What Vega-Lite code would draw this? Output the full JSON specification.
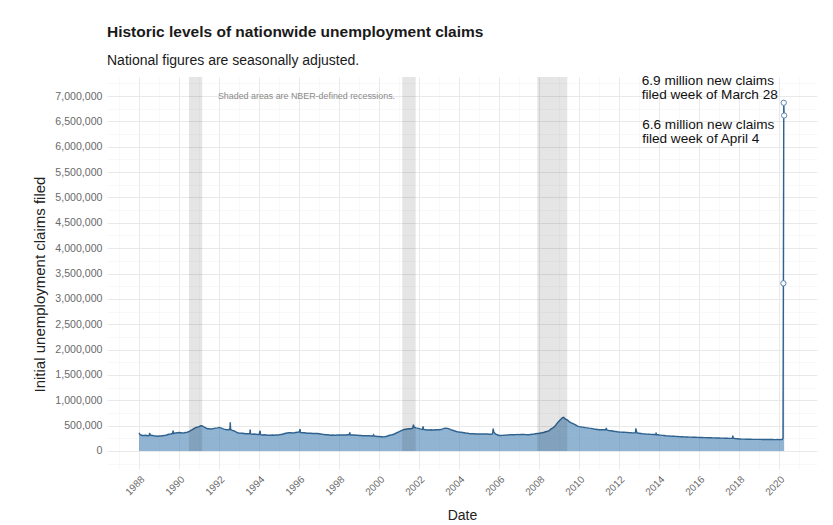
{
  "$schema": "https://vega.github.io/schema/vega-lite/v6.json",
  "autosize": "none",
  "width": 710,
  "height": 392,
  "padding": {"left": 107, "top": 77, "right": 16, "bottom": 56},
  "background": "white",
  "title": {
    "text": "Historic levels of nationwide unemployment claims",
    "subtitle": "National figures are seasonally adjusted.",
    "anchor": "start",
    "frame": "group",
    "offset": 6,
    "font": "Liberation Sans",
    "fontSize": 15.5,
    "fontWeight": "bold",
    "color": "#1a1a1a",
    "subtitleFont": "Liberation Sans",
    "subtitleFontSize": 14,
    "subtitleColor": "#1a1a1a",
    "subtitlePadding": 13
  },
  "datasets": {
    "claims": [
      {"date": "1988-01-02", "value": 360000},
      {"date": "1988-01-16", "value": 330000},
      {"date": "1988-02-06", "value": 315000},
      {"date": "1988-03-05", "value": 305000},
      {"date": "1988-04-02", "value": 305000},
      {"date": "1988-05-07", "value": 310000},
      {"date": "1988-06-04", "value": 300000},
      {"date": "1988-07-02", "value": 305000},
      {"date": "1988-07-16", "value": 355000},
      {"date": "1988-07-23", "value": 310000},
      {"date": "1988-08-06", "value": 310000},
      {"date": "1988-09-03", "value": 305000},
      {"date": "1988-10-01", "value": 300000},
      {"date": "1988-11-05", "value": 295000},
      {"date": "1988-12-03", "value": 290000},
      {"date": "1989-01-07", "value": 295000},
      {"date": "1989-02-04", "value": 295000},
      {"date": "1989-03-04", "value": 300000},
      {"date": "1989-04-01", "value": 305000},
      {"date": "1989-05-06", "value": 310000},
      {"date": "1989-06-03", "value": 320000},
      {"date": "1989-07-01", "value": 330000},
      {"date": "1989-08-05", "value": 335000},
      {"date": "1989-09-02", "value": 345000},
      {"date": "1989-09-16", "value": 400000},
      {"date": "1989-09-23", "value": 345000},
      {"date": "1989-10-07", "value": 350000},
      {"date": "1989-11-04", "value": 355000},
      {"date": "1989-12-02", "value": 360000},
      {"date": "1990-01-06", "value": 365000},
      {"date": "1990-02-03", "value": 360000},
      {"date": "1990-03-03", "value": 355000},
      {"date": "1990-04-07", "value": 360000},
      {"date": "1990-05-05", "value": 365000},
      {"date": "1990-06-02", "value": 370000},
      {"date": "1990-07-07", "value": 385000},
      {"date": "1990-08-04", "value": 405000},
      {"date": "1990-09-01", "value": 420000},
      {"date": "1990-10-06", "value": 445000},
      {"date": "1990-11-03", "value": 460000},
      {"date": "1990-12-01", "value": 470000},
      {"date": "1991-01-05", "value": 480000},
      {"date": "1991-02-02", "value": 500000},
      {"date": "1991-03-02", "value": 495000},
      {"date": "1991-04-06", "value": 470000},
      {"date": "1991-05-04", "value": 455000},
      {"date": "1991-06-01", "value": 440000},
      {"date": "1991-07-06", "value": 440000},
      {"date": "1991-08-03", "value": 435000},
      {"date": "1991-09-07", "value": 440000},
      {"date": "1991-10-05", "value": 445000},
      {"date": "1991-11-02", "value": 450000},
      {"date": "1991-12-07", "value": 455000},
      {"date": "1992-01-04", "value": 465000},
      {"date": "1992-02-01", "value": 455000},
      {"date": "1992-03-07", "value": 440000},
      {"date": "1992-04-04", "value": 430000},
      {"date": "1992-05-02", "value": 425000},
      {"date": "1992-06-06", "value": 420000},
      {"date": "1992-07-04", "value": 425000},
      {"date": "1992-07-18", "value": 420000},
      {"date": "1992-07-25", "value": 565000},
      {"date": "1992-08-01", "value": 425000},
      {"date": "1992-08-22", "value": 410000},
      {"date": "1992-09-05", "value": 405000},
      {"date": "1992-10-03", "value": 395000},
      {"date": "1992-11-07", "value": 375000},
      {"date": "1992-12-05", "value": 360000},
      {"date": "1993-01-02", "value": 355000},
      {"date": "1993-02-06", "value": 350000},
      {"date": "1993-03-06", "value": 350000},
      {"date": "1993-04-03", "value": 345000},
      {"date": "1993-05-01", "value": 340000},
      {"date": "1993-06-05", "value": 340000},
      {"date": "1993-07-17", "value": 340000},
      {"date": "1993-07-24", "value": 425000},
      {"date": "1993-07-31", "value": 340000},
      {"date": "1993-08-07", "value": 335000},
      {"date": "1993-09-04", "value": 330000},
      {"date": "1993-10-02", "value": 335000},
      {"date": "1993-11-06", "value": 330000},
      {"date": "1993-12-04", "value": 325000},
      {"date": "1994-01-01", "value": 325000},
      {"date": "1994-01-22", "value": 400000},
      {"date": "1994-01-29", "value": 325000},
      {"date": "1994-02-05", "value": 320000},
      {"date": "1994-03-05", "value": 315000},
      {"date": "1994-04-02", "value": 320000},
      {"date": "1994-05-07", "value": 315000},
      {"date": "1994-06-04", "value": 310000},
      {"date": "1994-07-02", "value": 310000},
      {"date": "1994-08-06", "value": 310000},
      {"date": "1994-09-03", "value": 315000},
      {"date": "1994-10-01", "value": 310000},
      {"date": "1994-11-05", "value": 315000},
      {"date": "1994-12-03", "value": 315000},
      {"date": "1995-01-07", "value": 320000},
      {"date": "1995-02-04", "value": 325000},
      {"date": "1995-03-04", "value": 330000},
      {"date": "1995-04-01", "value": 340000},
      {"date": "1995-05-06", "value": 350000},
      {"date": "1995-06-03", "value": 355000},
      {"date": "1995-07-01", "value": 360000},
      {"date": "1995-08-05", "value": 360000},
      {"date": "1995-09-02", "value": 355000},
      {"date": "1995-10-07", "value": 360000},
      {"date": "1995-11-04", "value": 365000},
      {"date": "1995-12-02", "value": 370000},
      {"date": "1996-01-06", "value": 375000},
      {"date": "1996-01-20", "value": 430000},
      {"date": "1996-01-27", "value": 370000},
      {"date": "1996-02-03", "value": 365000},
      {"date": "1996-03-02", "value": 360000},
      {"date": "1996-04-06", "value": 360000},
      {"date": "1996-05-04", "value": 355000},
      {"date": "1996-06-01", "value": 350000},
      {"date": "1996-07-06", "value": 350000},
      {"date": "1996-08-03", "value": 350000},
      {"date": "1996-09-07", "value": 345000},
      {"date": "1996-10-05", "value": 345000},
      {"date": "1996-11-02", "value": 345000},
      {"date": "1996-12-07", "value": 345000},
      {"date": "1997-01-04", "value": 340000},
      {"date": "1997-02-01", "value": 335000},
      {"date": "1997-03-01", "value": 330000},
      {"date": "1997-04-05", "value": 325000},
      {"date": "1997-05-03", "value": 320000},
      {"date": "1997-06-07", "value": 320000},
      {"date": "1997-07-05", "value": 315000},
      {"date": "1997-08-02", "value": 310000},
      {"date": "1997-09-06", "value": 315000},
      {"date": "1997-10-04", "value": 310000},
      {"date": "1997-11-01", "value": 310000},
      {"date": "1997-12-06", "value": 315000},
      {"date": "1998-01-03", "value": 315000},
      {"date": "1998-02-07", "value": 315000},
      {"date": "1998-03-07", "value": 315000},
      {"date": "1998-04-04", "value": 315000},
      {"date": "1998-05-02", "value": 315000},
      {"date": "1998-06-06", "value": 320000},
      {"date": "1998-07-04", "value": 320000},
      {"date": "1998-07-18", "value": 365000},
      {"date": "1998-07-25", "value": 320000},
      {"date": "1998-08-01", "value": 315000},
      {"date": "1998-09-05", "value": 315000},
      {"date": "1998-10-03", "value": 315000},
      {"date": "1998-11-07", "value": 310000},
      {"date": "1998-12-05", "value": 310000},
      {"date": "1999-01-02", "value": 305000},
      {"date": "1999-02-06", "value": 305000},
      {"date": "1999-03-06", "value": 300000},
      {"date": "1999-04-03", "value": 300000},
      {"date": "1999-05-01", "value": 300000},
      {"date": "1999-06-05", "value": 300000},
      {"date": "1999-07-03", "value": 300000},
      {"date": "1999-08-07", "value": 295000},
      {"date": "1999-09-04", "value": 295000},
      {"date": "1999-09-25", "value": 320000},
      {"date": "1999-10-02", "value": 295000},
      {"date": "1999-11-06", "value": 290000},
      {"date": "1999-12-04", "value": 285000},
      {"date": "2000-01-01", "value": 285000},
      {"date": "2000-02-05", "value": 280000},
      {"date": "2000-03-04", "value": 280000},
      {"date": "2000-04-01", "value": 278000},
      {"date": "2000-05-06", "value": 285000},
      {"date": "2000-06-03", "value": 295000},
      {"date": "2000-07-01", "value": 305000},
      {"date": "2000-08-05", "value": 315000},
      {"date": "2000-09-02", "value": 320000},
      {"date": "2000-10-07", "value": 335000},
      {"date": "2000-11-04", "value": 350000},
      {"date": "2000-12-02", "value": 365000},
      {"date": "2001-01-06", "value": 380000},
      {"date": "2001-02-03", "value": 395000},
      {"date": "2001-03-03", "value": 410000},
      {"date": "2001-04-07", "value": 425000},
      {"date": "2001-05-05", "value": 430000},
      {"date": "2001-06-02", "value": 435000},
      {"date": "2001-07-07", "value": 440000},
      {"date": "2001-08-04", "value": 440000},
      {"date": "2001-09-08", "value": 450000},
      {"date": "2001-09-22", "value": 520000},
      {"date": "2001-09-29", "value": 480000},
      {"date": "2001-10-06", "value": 470000},
      {"date": "2001-11-03", "value": 455000},
      {"date": "2001-12-01", "value": 450000},
      {"date": "2002-01-05", "value": 440000},
      {"date": "2002-02-02", "value": 430000},
      {"date": "2002-03-02", "value": 425000},
      {"date": "2002-03-16", "value": 485000},
      {"date": "2002-03-23", "value": 430000},
      {"date": "2002-04-06", "value": 425000},
      {"date": "2002-05-04", "value": 420000},
      {"date": "2002-06-01", "value": 415000},
      {"date": "2002-07-06", "value": 415000},
      {"date": "2002-08-03", "value": 420000},
      {"date": "2002-09-07", "value": 415000},
      {"date": "2002-10-05", "value": 415000},
      {"date": "2002-11-02", "value": 420000},
      {"date": "2002-12-07", "value": 420000},
      {"date": "2003-01-04", "value": 420000},
      {"date": "2003-02-01", "value": 425000},
      {"date": "2003-03-01", "value": 430000},
      {"date": "2003-04-05", "value": 445000},
      {"date": "2003-05-03", "value": 450000},
      {"date": "2003-06-07", "value": 445000},
      {"date": "2003-07-05", "value": 435000},
      {"date": "2003-08-02", "value": 420000},
      {"date": "2003-09-06", "value": 410000},
      {"date": "2003-10-04", "value": 400000},
      {"date": "2003-11-01", "value": 390000},
      {"date": "2003-12-06", "value": 380000},
      {"date": "2004-01-03", "value": 375000},
      {"date": "2004-02-07", "value": 370000},
      {"date": "2004-03-06", "value": 365000},
      {"date": "2004-04-03", "value": 360000},
      {"date": "2004-05-01", "value": 355000},
      {"date": "2004-06-05", "value": 350000},
      {"date": "2004-07-03", "value": 345000},
      {"date": "2004-08-07", "value": 340000},
      {"date": "2004-09-04", "value": 340000},
      {"date": "2004-10-02", "value": 340000},
      {"date": "2004-11-06", "value": 335000},
      {"date": "2004-12-04", "value": 335000},
      {"date": "2005-01-01", "value": 335000},
      {"date": "2005-02-05", "value": 335000},
      {"date": "2005-03-05", "value": 335000},
      {"date": "2005-04-02", "value": 335000},
      {"date": "2005-05-07", "value": 335000},
      {"date": "2005-06-04", "value": 335000},
      {"date": "2005-07-02", "value": 330000},
      {"date": "2005-08-06", "value": 330000},
      {"date": "2005-09-03", "value": 335000},
      {"date": "2005-09-17", "value": 440000},
      {"date": "2005-09-24", "value": 390000},
      {"date": "2005-10-08", "value": 360000},
      {"date": "2005-11-05", "value": 330000},
      {"date": "2005-12-03", "value": 320000},
      {"date": "2006-01-07", "value": 305000},
      {"date": "2006-02-04", "value": 305000},
      {"date": "2006-03-04", "value": 308000},
      {"date": "2006-04-01", "value": 310000},
      {"date": "2006-05-06", "value": 312000},
      {"date": "2006-06-03", "value": 315000},
      {"date": "2006-07-01", "value": 318000},
      {"date": "2006-08-05", "value": 320000},
      {"date": "2006-09-02", "value": 320000},
      {"date": "2006-10-07", "value": 320000},
      {"date": "2006-11-04", "value": 322000},
      {"date": "2006-12-02", "value": 325000},
      {"date": "2007-01-06", "value": 322000},
      {"date": "2007-02-03", "value": 325000},
      {"date": "2007-03-03", "value": 325000},
      {"date": "2007-04-07", "value": 325000},
      {"date": "2007-05-05", "value": 322000},
      {"date": "2007-06-02", "value": 320000},
      {"date": "2007-07-07", "value": 320000},
      {"date": "2007-08-04", "value": 325000},
      {"date": "2007-09-01", "value": 330000},
      {"date": "2007-10-06", "value": 335000},
      {"date": "2007-11-03", "value": 340000},
      {"date": "2007-12-01", "value": 345000},
      {"date": "2008-01-05", "value": 350000},
      {"date": "2008-02-02", "value": 355000},
      {"date": "2008-03-01", "value": 360000},
      {"date": "2008-04-05", "value": 370000},
      {"date": "2008-05-03", "value": 380000},
      {"date": "2008-06-07", "value": 390000},
      {"date": "2008-07-05", "value": 400000},
      {"date": "2008-08-02", "value": 430000},
      {"date": "2008-09-06", "value": 450000},
      {"date": "2008-10-04", "value": 475000},
      {"date": "2008-11-01", "value": 510000},
      {"date": "2008-12-06", "value": 560000},
      {"date": "2009-01-03", "value": 590000},
      {"date": "2009-02-07", "value": 630000},
      {"date": "2009-03-07", "value": 660000},
      {"date": "2009-03-28", "value": 665000},
      {"date": "2009-04-04", "value": 650000},
      {"date": "2009-05-02", "value": 630000},
      {"date": "2009-06-06", "value": 610000},
      {"date": "2009-07-04", "value": 580000},
      {"date": "2009-08-01", "value": 560000},
      {"date": "2009-09-05", "value": 545000},
      {"date": "2009-10-03", "value": 530000},
      {"date": "2009-11-07", "value": 510000},
      {"date": "2009-12-05", "value": 490000},
      {"date": "2010-01-02", "value": 480000},
      {"date": "2010-02-06", "value": 475000},
      {"date": "2010-03-06", "value": 470000},
      {"date": "2010-04-03", "value": 465000},
      {"date": "2010-05-01", "value": 460000},
      {"date": "2010-06-05", "value": 455000},
      {"date": "2010-07-03", "value": 450000},
      {"date": "2010-08-07", "value": 445000},
      {"date": "2010-09-04", "value": 440000},
      {"date": "2010-10-02", "value": 435000},
      {"date": "2010-11-06", "value": 430000},
      {"date": "2010-12-04", "value": 425000},
      {"date": "2011-01-01", "value": 420000},
      {"date": "2011-02-05", "value": 420000},
      {"date": "2011-03-05", "value": 418000},
      {"date": "2011-04-02", "value": 420000},
      {"date": "2011-05-07", "value": 420000},
      {"date": "2011-05-14", "value": 455000},
      {"date": "2011-05-21", "value": 420000},
      {"date": "2011-06-04", "value": 412000},
      {"date": "2011-07-02", "value": 405000},
      {"date": "2011-08-06", "value": 400000},
      {"date": "2011-09-03", "value": 395000},
      {"date": "2011-10-01", "value": 390000},
      {"date": "2011-11-05", "value": 385000},
      {"date": "2011-12-03", "value": 380000},
      {"date": "2012-01-07", "value": 375000},
      {"date": "2012-02-04", "value": 372000},
      {"date": "2012-03-03", "value": 370000},
      {"date": "2012-04-07", "value": 370000},
      {"date": "2012-05-05", "value": 368000},
      {"date": "2012-06-02", "value": 365000},
      {"date": "2012-07-07", "value": 362000},
      {"date": "2012-08-04", "value": 360000},
      {"date": "2012-09-01", "value": 358000},
      {"date": "2012-10-06", "value": 358000},
      {"date": "2012-10-27", "value": 360000},
      {"date": "2012-11-03", "value": 445000},
      {"date": "2012-11-17", "value": 380000},
      {"date": "2012-12-01", "value": 355000},
      {"date": "2013-01-05", "value": 350000},
      {"date": "2013-02-02", "value": 345000},
      {"date": "2013-03-02", "value": 340000},
      {"date": "2013-04-06", "value": 338000},
      {"date": "2013-05-04", "value": 335000},
      {"date": "2013-06-01", "value": 333000},
      {"date": "2013-07-06", "value": 330000},
      {"date": "2013-08-03", "value": 328000},
      {"date": "2013-09-07", "value": 325000},
      {"date": "2013-10-05", "value": 325000},
      {"date": "2013-11-02", "value": 322000},
      {"date": "2013-11-09", "value": 360000},
      {"date": "2013-11-16", "value": 322000},
      {"date": "2013-12-07", "value": 320000},
      {"date": "2014-01-04", "value": 315000},
      {"date": "2014-02-01", "value": 312000},
      {"date": "2014-03-01", "value": 308000},
      {"date": "2014-04-05", "value": 305000},
      {"date": "2014-05-03", "value": 300000},
      {"date": "2014-06-07", "value": 298000},
      {"date": "2014-07-05", "value": 296000},
      {"date": "2014-08-02", "value": 294000},
      {"date": "2014-09-06", "value": 292000},
      {"date": "2014-10-04", "value": 290000},
      {"date": "2014-11-01", "value": 288000},
      {"date": "2014-12-06", "value": 286000},
      {"date": "2015-01-03", "value": 284000},
      {"date": "2015-02-07", "value": 282000},
      {"date": "2015-03-07", "value": 280000},
      {"date": "2015-04-04", "value": 278000},
      {"date": "2015-05-02", "value": 277000},
      {"date": "2015-06-06", "value": 276000},
      {"date": "2015-07-04", "value": 274000},
      {"date": "2015-08-01", "value": 273000},
      {"date": "2015-09-05", "value": 272000},
      {"date": "2015-10-03", "value": 271000},
      {"date": "2015-11-07", "value": 270000},
      {"date": "2015-12-05", "value": 268000},
      {"date": "2016-01-02", "value": 267000},
      {"date": "2016-02-06", "value": 266000},
      {"date": "2016-03-05", "value": 265000},
      {"date": "2016-04-02", "value": 264000},
      {"date": "2016-05-07", "value": 263000},
      {"date": "2016-06-04", "value": 262000},
      {"date": "2016-07-02", "value": 261000},
      {"date": "2016-08-06", "value": 260000},
      {"date": "2016-09-03", "value": 259000},
      {"date": "2016-10-01", "value": 258000},
      {"date": "2016-11-05", "value": 257000},
      {"date": "2016-12-03", "value": 256000},
      {"date": "2017-01-07", "value": 255000},
      {"date": "2017-02-04", "value": 254000},
      {"date": "2017-03-04", "value": 253000},
      {"date": "2017-04-01", "value": 252000},
      {"date": "2017-05-06", "value": 251000},
      {"date": "2017-06-03", "value": 250000},
      {"date": "2017-07-01", "value": 249000},
      {"date": "2017-08-05", "value": 248000},
      {"date": "2017-09-02", "value": 248000},
      {"date": "2017-09-09", "value": 305000},
      {"date": "2017-09-16", "value": 260000},
      {"date": "2017-10-07", "value": 245000},
      {"date": "2017-11-04", "value": 243000},
      {"date": "2017-12-02", "value": 242000},
      {"date": "2018-01-06", "value": 238000},
      {"date": "2018-02-03", "value": 236000},
      {"date": "2018-03-03", "value": 235000},
      {"date": "2018-04-07", "value": 234000},
      {"date": "2018-05-05", "value": 233000},
      {"date": "2018-06-02", "value": 232000},
      {"date": "2018-07-07", "value": 232000},
      {"date": "2018-08-04", "value": 231000},
      {"date": "2018-09-01", "value": 230000},
      {"date": "2018-10-06", "value": 230000},
      {"date": "2018-11-03", "value": 229000},
      {"date": "2018-12-01", "value": 229000},
      {"date": "2019-01-05", "value": 230000},
      {"date": "2019-02-02", "value": 229000},
      {"date": "2019-03-02", "value": 228000},
      {"date": "2019-04-06", "value": 228000},
      {"date": "2019-05-04", "value": 227000},
      {"date": "2019-06-01", "value": 227000},
      {"date": "2019-07-06", "value": 226000},
      {"date": "2019-08-03", "value": 226000},
      {"date": "2019-09-07", "value": 226000},
      {"date": "2019-10-05", "value": 225000},
      {"date": "2019-11-02", "value": 225000},
      {"date": "2019-12-07", "value": 226000},
      {"date": "2020-01-04", "value": 225000},
      {"date": "2020-02-01", "value": 226000},
      {"date": "2020-02-29", "value": 225000},
      {"date": "2020-03-14", "value": 250000},
      {"date": "2020-03-21", "value": 3307000},
      {"date": "2020-03-28", "value": 6867000},
      {"date": "2020-04-04", "value": 6615000}
    ],
    "recessions": [
      {"start": "1990-07-01", "end": "1991-03-01"},
      {"start": "2001-03-01", "end": "2001-11-01"},
      {"start": "2007-12-01", "end": "2009-06-01"}
    ]
  },
  "layer": [
    {
      "encoding": {
        "x": {
          "field": "date",
          "type": "temporal",
          "scale": {"domain": ["1986-05-27", "2021-11-25"], "nice": false},
          "axis": {
            "title": "Date",
            "values": [
              {"year": 1987, "utc": true}, {"year": 1988, "utc": true}, {"year": 1989, "utc": true}, {"year": 1990, "utc": true},
              {"year": 1991, "utc": true}, {"year": 1992, "utc": true}, {"year": 1993, "utc": true}, {"year": 1994, "utc": true},
              {"year": 1995, "utc": true}, {"year": 1996, "utc": true}, {"year": 1997, "utc": true}, {"year": 1998, "utc": true},
              {"year": 1999, "utc": true}, {"year": 2000, "utc": true}, {"year": 2001, "utc": true}, {"year": 2002, "utc": true},
              {"year": 2003, "utc": true}, {"year": 2004, "utc": true}, {"year": 2005, "utc": true}, {"year": 2006, "utc": true},
              {"year": 2007, "utc": true}, {"year": 2008, "utc": true}, {"year": 2009, "utc": true}, {"year": 2010, "utc": true},
              {"year": 2011, "utc": true}, {"year": 2012, "utc": true}, {"year": 2013, "utc": true}, {"year": 2014, "utc": true},
              {"year": 2015, "utc": true}, {"year": 2016, "utc": true}, {"year": 2017, "utc": true}, {"year": 2018, "utc": true},
              {"year": 2019, "utc": true}, {"year": 2020, "utc": true}, {"year": 2021, "utc": true}
            ],
            "labelExpr": "utcyear(datum.value) % 2 === 0 ? utcFormat(datum.value, '%Y') : ''",
            "labelAngle": -45,
            "labelAlign": "right",
            "labelBaseline": "top",
            "labelPadding": 5,
            "labelFontSize": 10,
            "labelOverlap": false,
            "titlePadding": 12,
            "gridColor": {"condition": {"test": "utcyear(datum.value) % 2 === 0", "value": "#e9e9e9"}, "value": "#f3f3f3"},
            "gridWidth": {"condition": {"test": "utcyear(datum.value) % 2 === 0", "value": 1}, "value": 0.6}
          }
        },
        "y": {
          "field": "value",
          "type": "quantitative",
          "scale": {"domain": [-355000, 7375000], "nice": false, "zero": false},
          "axis": {
            "title": "Initial unemployment claims filed",
            "values": [-250000, 0, 250000, 500000, 750000, 1000000, 1250000, 1500000, 1750000, 2000000, 2250000, 2500000, 2750000, 3000000, 3250000, 3500000, 3750000, 4000000, 4250000, 4500000, 4750000, 5000000, 5250000, 5500000, 5750000, 6000000, 6250000, 6500000, 6750000, 7000000, 7250000],
            "labelExpr": "datum.value >= 0 && datum.value % 500000 === 0 ? format(datum.value, ',') : ''",
            "labelPadding": 5,
            "labelFontSize": 10.6,
            "titlePadding": 7,
            "titleFontSize": 15,
            "titleY": 207,
            "gridColor": {"condition": {"test": "datum.value % 500000 === 0", "value": "#e9e9e9"}, "value": "#f3f3f3"},
            "gridWidth": {"condition": {"test": "datum.value % 500000 === 0", "value": 1}, "value": 0.6}
          }
        }
      },
      "layer": [
        {
          "data": {"name": "claims"},
          "mark": {"type": "area", "color": "#4682b4", "opacity": 0.6}
        },
        {
          "data": {"name": "claims"},
          "mark": {"type": "line", "color": "#2f628f", "strokeWidth": 1.4}
        },
        {
          "data": {"name": "claims"},
          "transform": [{"filter": "datum.value > 1000000"}],
          "mark": {"type": "point", "shape": "circle", "filled": true, "fill": "white", "stroke": "#5a86ad", "strokeWidth": 1, "size": 28, "opacity": 1}
        },
        {
          "data": {"values": [{"date": "2020-03-28", "value": 6867000, "label": ["6.9 million new claims", "filed week of March 28"]}]},
          "mark": {"type": "text", "align": "left", "baseline": "middle", "dx": -142, "dy": -22, "fontSize": 13.6, "lineHeight": 14, "font": "Liberation Sans", "color": "#111"},
          "encoding": {"text": {"field": "label"}}
        },
        {
          "data": {"values": [{"date": "2020-04-04", "value": 6615000, "label": ["6.6 million new claims", "filed week of April 4"]}]},
          "mark": {"type": "text", "align": "left", "baseline": "middle", "dx": -142, "dy": 9, "fontSize": 13.6, "lineHeight": 14, "font": "Liberation Sans", "color": "#111"},
          "encoding": {"text": {"field": "label"}}
        },
        {
          "data": {"values": [{"date": "1996-05-17", "value": 7000000, "label": "Shaded areas are NBER-defined recessions."}]},
          "mark": {"type": "text", "align": "center", "baseline": "middle", "fontSize": 8.9, "font": "Liberation Sans", "color": "#8a8a8a"},
          "encoding": {"text": {"field": "label"}}
        }
      ]
    },
    {
      "data": {"name": "recessions"},
      "mark": {"type": "rect", "fill": "#000000", "fillOpacity": 0.1},
      "encoding": {
        "x": {
          "field": "start",
          "type": "temporal",
          "scale": {"domain": ["1986-05-27", "2021-11-25"], "nice": false},
          "axis": {
            "title": "Date",
            "values": [
              {"year": 1987, "utc": true}, {"year": 1988, "utc": true}, {"year": 1989, "utc": true}, {"year": 1990, "utc": true},
              {"year": 1991, "utc": true}, {"year": 1992, "utc": true}, {"year": 1993, "utc": true}, {"year": 1994, "utc": true},
              {"year": 1995, "utc": true}, {"year": 1996, "utc": true}, {"year": 1997, "utc": true}, {"year": 1998, "utc": true},
              {"year": 1999, "utc": true}, {"year": 2000, "utc": true}, {"year": 2001, "utc": true}, {"year": 2002, "utc": true},
              {"year": 2003, "utc": true}, {"year": 2004, "utc": true}, {"year": 2005, "utc": true}, {"year": 2006, "utc": true},
              {"year": 2007, "utc": true}, {"year": 2008, "utc": true}, {"year": 2009, "utc": true}, {"year": 2010, "utc": true},
              {"year": 2011, "utc": true}, {"year": 2012, "utc": true}, {"year": 2013, "utc": true}, {"year": 2014, "utc": true},
              {"year": 2015, "utc": true}, {"year": 2016, "utc": true}, {"year": 2017, "utc": true}, {"year": 2018, "utc": true},
              {"year": 2019, "utc": true}, {"year": 2020, "utc": true}, {"year": 2021, "utc": true}
            ],
            "labelExpr": "utcyear(datum.value) % 2 === 0 ? utcFormat(datum.value, '%Y') : ''",
            "labelAngle": -45,
            "labelAlign": "right",
            "labelBaseline": "top",
            "labelPadding": 5,
            "labelFontSize": 10,
            "labelOverlap": false,
            "titlePadding": 12,
            "gridColor": {"condition": {"test": "utcyear(datum.value) % 2 === 0", "value": "#e9e9e9"}, "value": "#f3f3f3"},
            "gridWidth": {"condition": {"test": "utcyear(datum.value) % 2 === 0", "value": 1}, "value": 0.6}
          }
        },
        "x2": {"field": "end"},
        "y": {
          "datum": 0,
          "type": "quantitative",
          "scale": {"domain": [-355000, 7375000], "nice": false, "zero": false},
          "axis": {
            "title": "Initial unemployment claims filed",
            "values": [-250000, 0, 250000, 500000, 750000, 1000000, 1250000, 1500000, 1750000, 2000000, 2250000, 2500000, 2750000, 3000000, 3250000, 3500000, 3750000, 4000000, 4250000, 4500000, 4750000, 5000000, 5250000, 5500000, 5750000, 6000000, 6250000, 6500000, 6750000, 7000000, 7250000],
            "labelExpr": "datum.value >= 0 && datum.value % 500000 === 0 ? format(datum.value, ',') : ''",
            "labelPadding": 5,
            "labelFontSize": 10.6,
            "titlePadding": 7,
            "titleFontSize": 15,
            "titleY": 207,
            "gridColor": {"condition": {"test": "datum.value % 500000 === 0", "value": "#e9e9e9"}, "value": "#f3f3f3"},
            "gridWidth": {"condition": {"test": "datum.value % 500000 === 0", "value": 1}, "value": 0.6}
          }
        },
        "y2": {"datum": 7375000}
      }
    }
  ],
  "config": {
    "font": "Liberation Sans",
    "view": {"stroke": null},
    "axis": {
      "domain": false,
      "ticks": false,
      "labelFont": "Liberation Sans",
      "labelColor": "#6a6a6a",
      "titleFont": "Liberation Sans",
      "titleFontWeight": "normal",
      "titleFontSize": 14,
      "titleColor": "#222222"
    }
  }
}
